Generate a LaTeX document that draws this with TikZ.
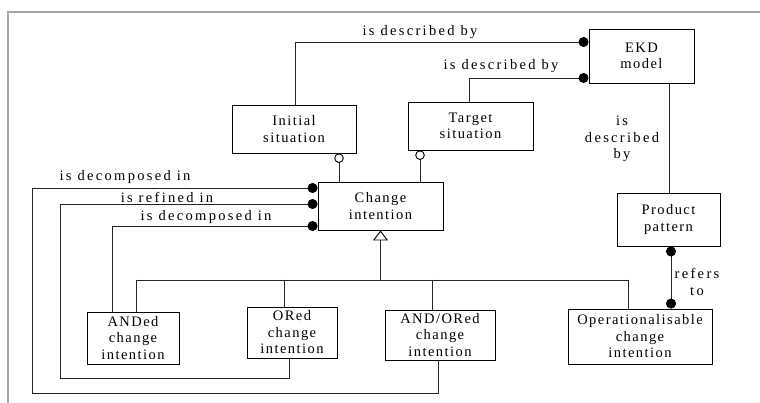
\documentclass[tikz,border=0pt]{standalone}
\usepackage{fontspec}
\setmainfont{Liberation Serif}
\newfontfamily\boxfont{Liberation Serif}[LetterSpace=10]
\newfontfamily\labfont{Liberation Serif}[LetterSpace=16]
\usetikzlibrary{arrows.meta}

\begin{document}
\begin{tikzpicture}[x=1pt,y=-1pt,
  entity/.style={draw=black, line width=0.9pt, fill=white, align=center,
    inner sep=0pt, font=\boxfont\fontsize{14.5}{16.5}\selectfont},
  link/.style={draw=black!85, line width=0.9pt},
  role/.style={inner sep=0pt, align=center,
    font=\labfont\fontsize{14.5}{16.5}\selectfont},
  dotend/.style={-{Circle[length=10pt,width=10pt,fill=black,color=black]}},
  dotboth/.style={{Circle[length=10pt,width=10pt,fill=black,color=black]}-{Circle[length=10pt,width=10pt,fill=black,color=black]}},
  ringstart/.style={{Circle[open,length=9.5pt,width=9.5pt,fill=white,color=black]}-},
  isa/.style={{Triangle[open,length=10pt,width=15pt,fill=white,color=black]}-},
]
\useasboundingbox (0,0) rectangle (760,403);
\fill[white] (0,0) rectangle (760,403);

% outer frame
\draw[black!35, line width=2pt] (8,403) -- (8,12) -- (760,12);

% entities
\node[entity, minimum width=124pt, minimum height=48pt] (init)  at (294,129)   {Initial\\situation};
\node[entity, minimum width=125pt, minimum height=48pt] (target) at (470.5,126) {Target\\situation};
\node[entity, minimum width=105pt, minimum height=54pt] (ekd)   at (641.5,56)  {EKD\\model};
\node[entity, minimum width=125pt, minimum height=48pt] (change) at (380.5,206) {Change\\intention};
\node[entity, minimum width=103pt, minimum height=53pt] (prod)  at (668.5,219.5) {Product\\pattern};
\node[entity, minimum width=92pt,  minimum height=52pt] (anded) at (133,338)   {ANDed\\change\\intention};
\node[entity, minimum width=90pt,  minimum height=51pt] (ored)  at (292,332.5) {ORed\\change\\intention};
\node[entity, minimum width=110pt, minimum height=50pt] (andor) at (440,335)   {AND/ORed\\change\\intention};
\node[entity, minimum width=144pt, minimum height=55pt] (oper)  at (640,336.5) {Operationalisable\\change\\intention};

% description links to the EKD model
\draw[link, dotend] (295,0 |- init.north) -- (295,42) -- (ekd.west |- 0,42);
\draw[link, dotend] (469,0 |- target.north) -- (469,78) -- (ekd.west |- 0,78);
\draw[link] (669,0 |- ekd.south) -- (669,0 |- prod.north);
\draw[link, dotboth] (671,0 |- prod.south) -- (671,0 |- oper.north);

% situations attached to the change intention
\draw[link, ringstart] (339,0 |- init.south) -- (339,0 |- change.north);
\draw[link, ringstart] (420,0 |- target.south) -- (420,0 |- change.north);

% specialisation tree
\coordinate (fork) at (380.5,280);
\draw[link, isa] (change.south) -- (fork);
\draw[link] (136,280) -- (628,280);
\draw[link] (136,280) -- (136,0 |- anded.north);
\draw[link] (284,280) -- (284,0 |- ored.north);
\draw[link] (432,280) -- (432,0 |- andor.north);
\draw[link] (628,280) -- (628,0 |- oper.north);

% decomposition and refinement links
\draw[link, dotend] (438,0 |- andor.south) -- (438,393) -- (32,393) -- (32,188) -- (change.west |- 0,188);
\draw[link, dotend] (289,0 |- ored.south) -- (289,378) -- (60,378) -- (60,204) -- (change.west |- 0,204);
\draw[link, dotend] (112,0 |- anded.north) -- (112,226) -- (change.west |- 0,226);

% role labels
\node[role] (lA) at (420,32)  {is described by};
\node[role] (lB) at (501,66)  {is described by};
\node[role] (lC) at (622,139) {is\\described\\by};
\node[role] (lD) at (697,282) {refers\\to};
\node[role] (lE) at (125,177) {is decomposed in};
\node[role] (lF) at (167,197) {is refined in};
\node[role] (lG) at (206,217) {is decomposed in};
\end{tikzpicture}
\end{document}
